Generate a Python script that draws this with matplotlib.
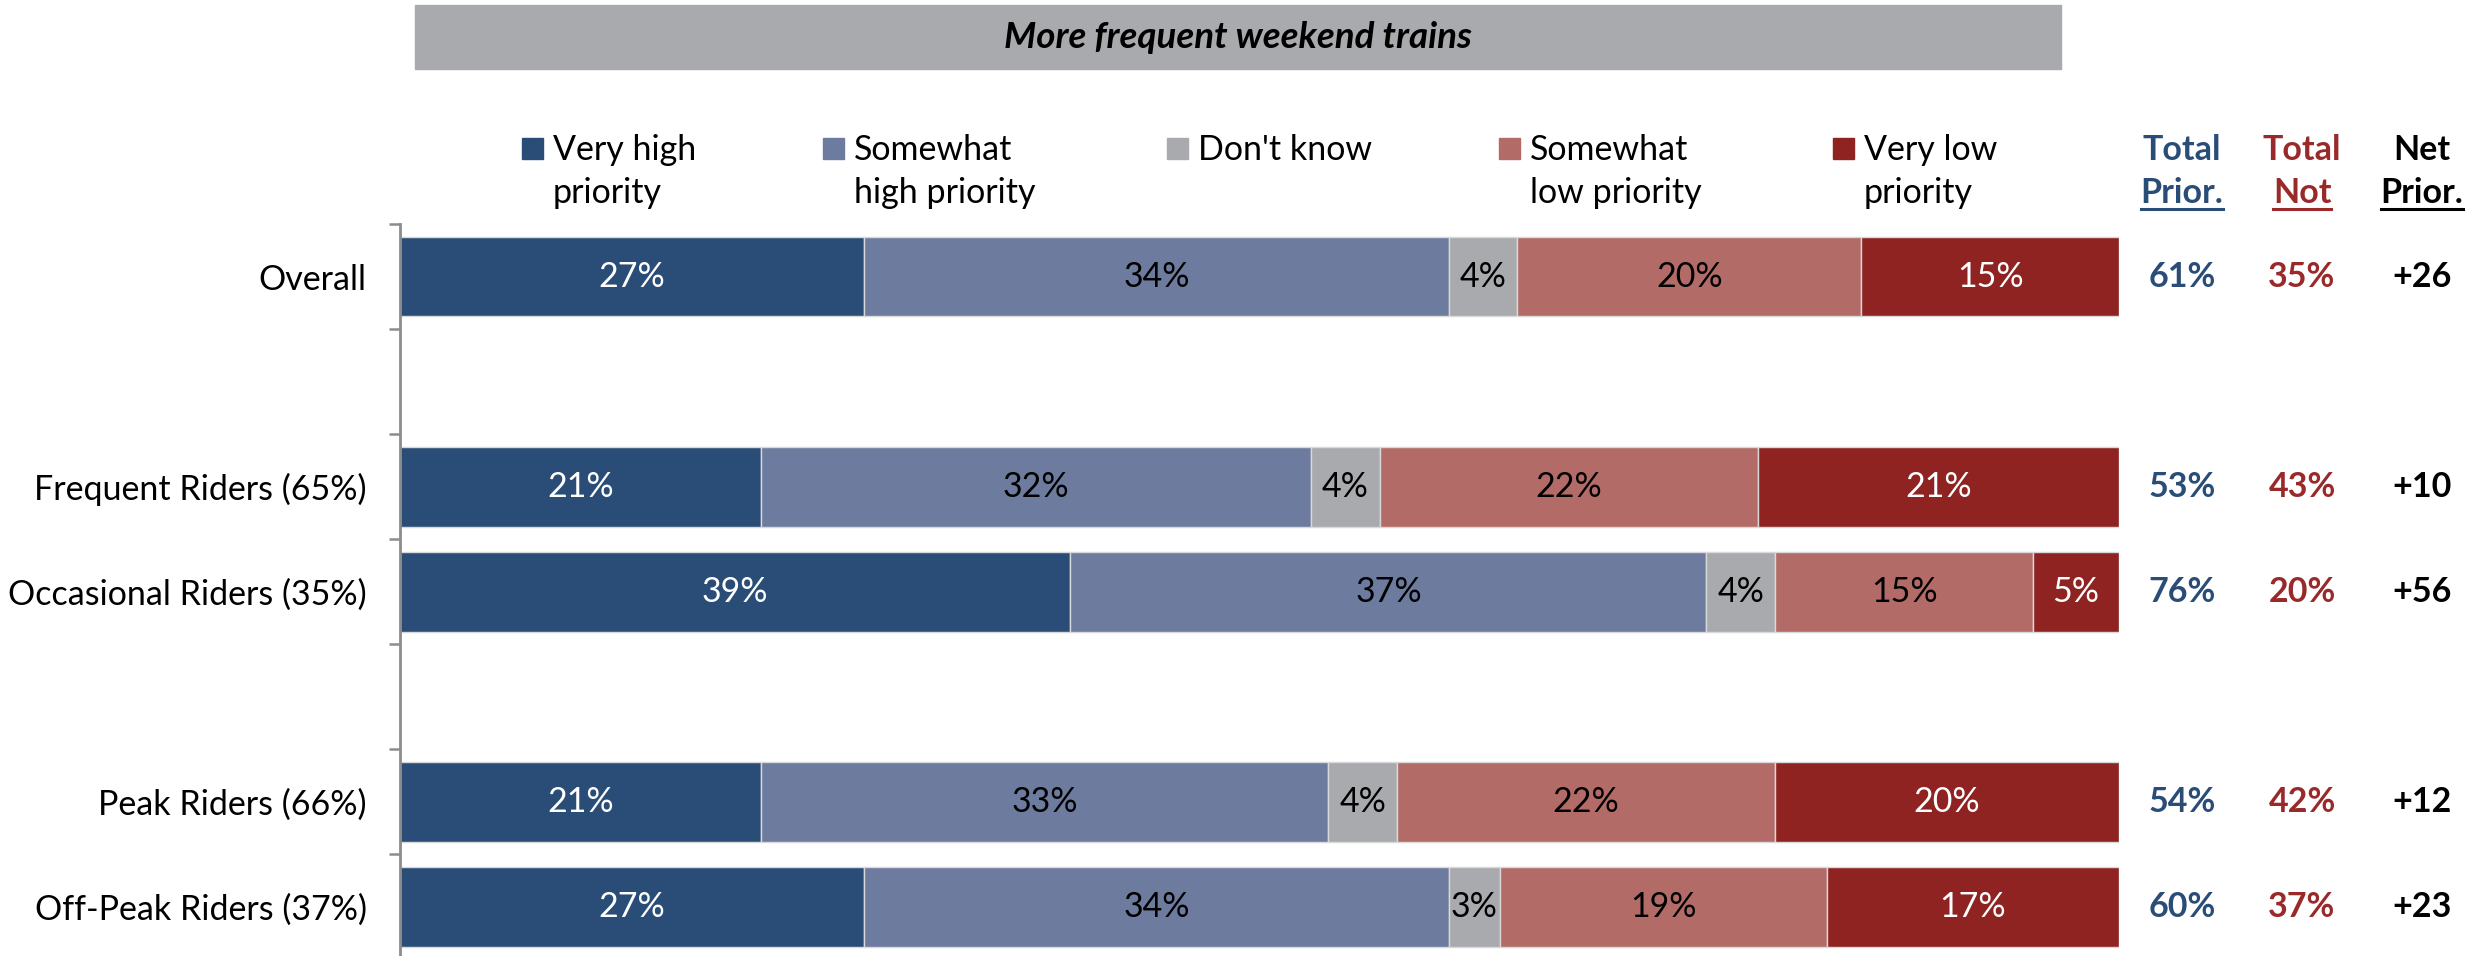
import matplotlib.pyplot as plt
import matplotlib.transforms as mtransforms
import numpy as np
from matplotlib.lines import Line2D
from matplotlib.patches import Rectangle

plt.rcParams['font.family'] = ['Lato', 'DejaVu Sans']

# Dados
groups        = ['Overall', 'Frequent Riders (65%)', 'Occasional Riders (35%)',
                 'Peak Riders (66%)', 'Off-Peak Riders (37%)']
series        = ['Very high\npriority', 'Somewhat\nhigh priority', "Don't know",
                 'Somewhat\nlow priority', 'Very low\npriority']
very_high     = [27, 21, 39, 21, 27]
somewhat_high = [34, 32, 37, 33, 34]
dont_know     = [4, 4, 4, 4, 3]
somewhat_low  = [20, 22, 15, 22, 19]
very_low      = [15, 21, 5, 20, 17]
total_prior   = ['61%', '53%', '76%', '54%', '60%']
total_not     = ['35%', '43%', '20%', '42%', '37%']
net_prior     = ['+26', '+10', '+56', '+12', '+23']
title         = 'More frequent weekend trains'

# Estilo
W, H   = 2483, 956
cores  = ['#2A4D77', '#6D7B9E', '#A9AAAE', '#B36B68', '#8E2322']
txtcor = ['white', 'black', 'black', 'black', 'white']
azul   = '#2A4D77'
verm   = '#9A2A2A'
fs     = 24.5
pos    = [0, 2, 3, 5, 6]          # linhas vazias entre os blocos

def fx(px):
    return px / W

def fy(py):
    return 1 - py / H

fig = plt.figure(figsize=(W / 100, H / 100), dpi=100)
ax  = fig.add_axes([fx(400), fy(959.5), fx(2119) - fx(400), fy(224) - fy(959.5)])

# Barras empilhadas
left = np.zeros(len(groups))
for vals, c, tc in zip([very_high, somewhat_high, dont_know, somewhat_low, very_low], cores, txtcor):
    bars = ax.barh(pos, vals, left=left, height=0.76, color=c, edgecolor='#D9D9D9', linewidth=1)
    ax.bar_label(bars, labels=[f'{v}%' for v in vals], label_type='center', color=tc, fontsize=fs)
    left = left + np.array(vals)

ax.set_xlim(0, 100)
ax.set_ylim(6.5, -0.5)
for s in ['top', 'right', 'bottom']:
    ax.spines[s].set_visible(False)
ax.spines['left'].set_color('#8C8C8C')
ax.spines['left'].set_linewidth(2)
ax.set_xticks([])
ax.set_yticks(np.arange(-0.5, 7, 1))
ax.set_yticklabels([])
ax.tick_params(axis='y', which='major', length=8, width=1.8, color='#8C8C8C')
ax.set_yticks(pos, minor=True)
ax.set_yticklabels(groups, minor=True, fontsize=fs)
ax.tick_params(axis='y', which='minor', length=0, pad=24)

# Caixa do titulo
fig.patches.append(Rectangle((fx(415), fy(69)), fx(2061) - fx(415), fy(5) - fy(69),
                             transform=fig.transFigure, color='#A9AAAE', zorder=0))
fig.text(fx(1238), fy(37), title, ha='center', va='center', fontsize=26.5,
         fontweight='bold', fontstyle='italic')

# Legenda manual
leg_x = [522, 823, 1167, 1499, 1833]
for x, lab, c in zip(leg_x, series, cores):
    fig.patches.append(Rectangle((fx(x), fy(159)), fx(21), 21 / H,
                                 transform=fig.transFigure, color=c))
    for k, linha in enumerate(lab.split('\n')):
        fig.text(fx(x + 31), fy(150 + 43 * k), linha, ha='left', va='center', fontsize=fs)

# Colunas da direita
trans = mtransforms.blended_transform_factory(fig.transFigure, ax.transData)
col_x = [2182, 2302, 2422]
cabec = [('Total', 'Prior.'), ('Total', 'Not'), ('Net', 'Prior.')]
ccor  = [azul, verm, 'black']
sub = []
for x, (l1, l2), c, vals in zip(col_x, cabec, ccor, [total_prior, total_not, net_prior]):
    fig.text(fx(x), fy(150), l1, ha='center', va='center', fontsize=fs, fontweight='bold', color=c)
    t = fig.text(fx(x), fy(193), l2, ha='center', va='center', fontsize=fs, fontweight='bold', color=c)
    sub.append((t, c))
    for p, v in zip(pos, vals):
        ax.text(fx(x), p, v, transform=trans, ha='center', va='center',
                fontsize=fs, fontweight='bold', color=c)

# Sublinhado dos cabecalhos
fig.canvas.draw()
r = fig.canvas.get_renderer()
for t, c in sub:
    bb = t.get_window_extent(r).transformed(fig.transFigure.inverted())
    fig.add_artist(Line2D([bb.x0, bb.x1], [fy(209), fy(209)], transform=fig.transFigure,
                          color=c, linewidth=2.2))

fig.savefig('out.png', dpi=100)
